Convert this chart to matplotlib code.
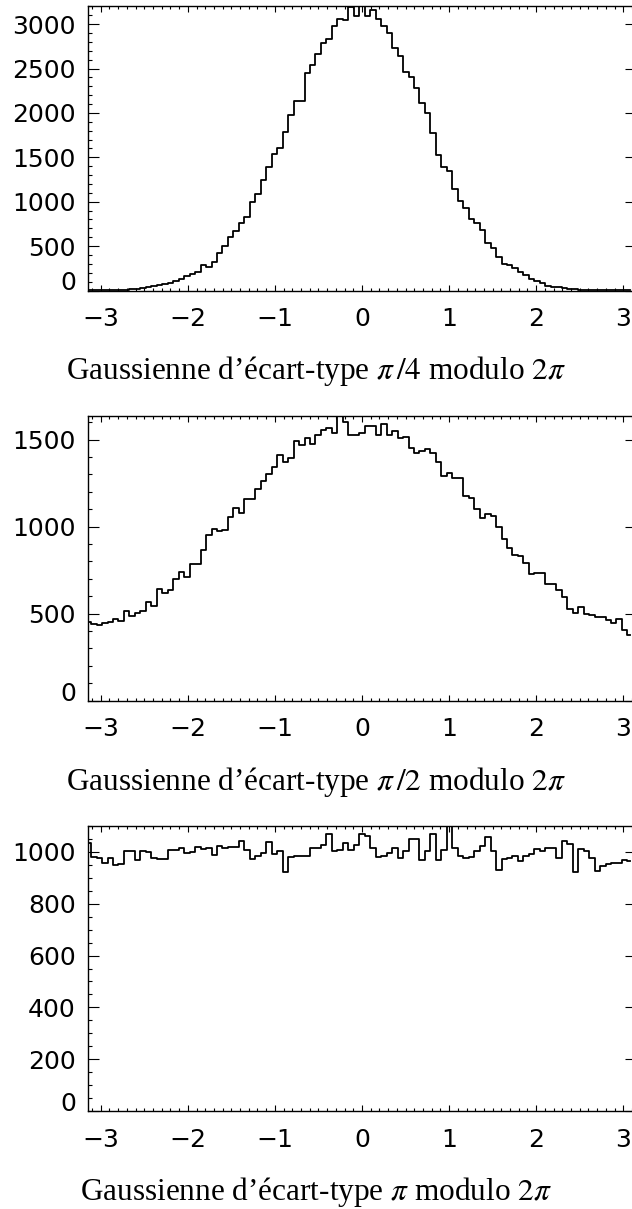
import numpy as np
import matplotlib
matplotlib.use("Agg")
import matplotlib.pyplot as plt
from matplotlib.ticker import MultipleLocator

# histogram counts, 100 bins over [-pi, pi]
counts_pi4 = [2, 2, 3, 3, 4, 5, 7, 9, 13, 17,
              24, 36, 47, 58, 70, 85, 111, 126, 160, 190,
              209, 288, 269, 321, 419, 498, 600, 675, 758, 825,
              998, 1085, 1243, 1393, 1543, 1611, 1784, 1976, 2134, 2134,
              2450, 2544, 2664, 2788, 2833, 2980, 3063, 3051, 3194, 3097,
              3209, 3089, 3157, 3059, 2984, 2901, 2728, 2638, 2465, 2408,
              2281, 2111, 1998, 1773, 1532, 1386, 1352, 1149, 1014, 927,
              803, 758, 682, 540, 476, 382, 303, 284, 250, 212,
              171, 126, 111, 81, 55, 43, 36, 28, 21, 13,
              10, 8, 6, 5, 4, 3, 2, 2, 1, 1]

counts_pi2 = [450, 443, 433, 445, 450, 471, 456, 513, 485, 502,
              517, 565, 544, 640, 617, 634, 697, 741, 709, 784,
              787, 868, 950, 985, 973, 979, 1058, 1106, 1077, 1159,
              1161, 1215, 1261, 1305, 1341, 1410, 1374, 1393, 1494, 1471,
              1510, 1475, 1529, 1556, 1569, 1537, 1636, 1600, 1527, 1527,
              1537, 1579, 1579, 1527, 1590, 1527, 1552, 1512, 1517, 1450,
              1422, 1437, 1446, 1425, 1374, 1293, 1307, 1280, 1278, 1176,
              1163, 1102, 1048, 1071, 1063, 1000, 927, 876, 837, 833,
              789, 726, 736, 732, 671, 669, 636, 598, 527, 502,
              540, 498, 491, 483, 479, 464, 445, 467, 406, 376]

counts_pi = [1035, 981, 976, 959, 978, 949, 955, 1004, 1004, 968,
             1004, 1000, 978, 972, 972, 1009, 1009, 1014, 994, 1000,
             1019, 1010, 1014, 988, 1023, 1017, 1019, 1019, 1042, 1007,
             974, 985, 997, 1040, 991, 1004, 924, 981, 985, 985,
             985, 1014, 1017, 1027, 1068, 1004, 1007, 1036, 1007, 1027,
             1070, 1062, 1014, 981, 985, 994, 1014, 976, 1004, 1051,
             1051, 968, 1004, 1070, 968, 1006, 1100, 1014, 985, 976,
             981, 1004, 1023, 1058, 1004, 930, 974, 976, 985, 965,
             985, 991, 1010, 1004, 1014, 1014, 978, 1042, 1032, 924,
             1010, 1004, 978, 927, 946, 952, 959, 959, 970, 965]

titles = [r"Gaussienne d’écart-type $\pi\,/4$ modulo $2\pi$",
          r"Gaussienne d’écart-type $\pi\,/2$ modulo $2\pi$",
          r"Gaussienne d’écart-type $\pi$ modulo $2\pi$"]
ymajor = [500, 500, 200]
yminor = [100, 100, 50]
xticks = [-3, -2, -1, 0, 1, 2, 3]

plt.rcParams["mathtext.fontset"] = "stix"

W, H = 632, 1209
fig = plt.figure(figsize=(W / 100, H / 100), dpi=100)

# panel boxes in pixels: (top, bottom)
boxes = [(5.7, 290.5), (416, 700.7), (826, 1111)]
left_px, right_px = 88.4, 635.6

nbins = 100
edges = -np.pi + 2 * np.pi * np.arange(nbins) / nbins

for counts, title, (top, bot), ymaj, ymin_ in zip(
        [counts_pi4, counts_pi2, counts_pi], titles, boxes, ymajor, yminor):
    ax = fig.add_axes([left_px / W, (H - bot) / H,
                       (right_px - left_px) / W, (bot - top) / H])
    ax.step(edges, counts, where="mid", color="black", lw=1.3)
    top_val = max(counts)
    ax.set_xticks(xticks)
    ax.set_xticklabels(["\u2212%d" % -t if t < 0 else "%d" % t for t in xticks])
    ax.xaxis.set_minor_locator(MultipleLocator(0.1))
    ax.set_yticks(np.arange(0, top_val + 1, ymaj))
    ax.yaxis.set_minor_locator(MultipleLocator(ymin_))
    ax.set_xlim(-np.pi, np.pi)
    ax.set_ylim(0, top_val)
    ax.tick_params(axis="both", which="both", direction="in",
                   top=True, right=True, width=0.8, colors="black")
    ax.tick_params(axis="y", which="major", length=7.9, pad=9, labelsize=18)
    ax.tick_params(axis="y", which="minor", length=3.0)
    ax.tick_params(axis="x", which="major", length=4.2, pad=12, labelsize=18)
    ax.tick_params(axis="x", which="minor", length=2.2)
    for sp in ax.spines.values():
        sp.set_linewidth(1.0)
    ax.get_yticklabels()[0].set_verticalalignment("baseline")
    fig.text(0.5, 1 - (bot + 89) / H, title, ha="center", va="baseline",
             fontsize=22.5, family="Liberation Serif")

fig.savefig("out.png", dpi=100)
